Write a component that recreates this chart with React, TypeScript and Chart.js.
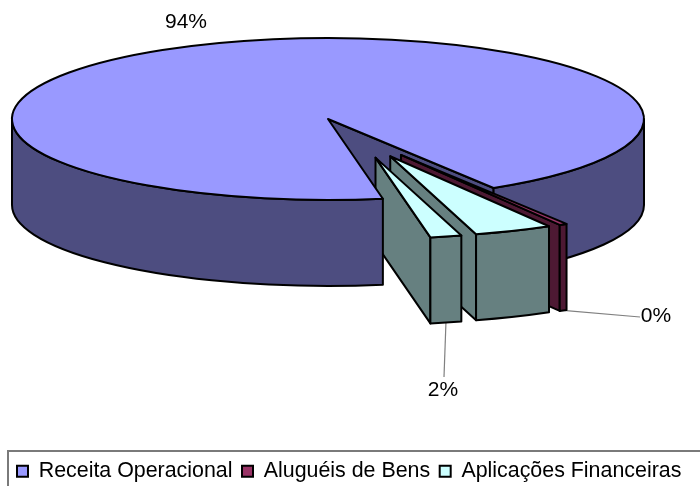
import React, { useEffect, useRef } from "react";
import { Chart, registerables } from "chart.js";

Chart.register(...registerables);

const categories = ["Receita Operacional", "Aluguéis de Bens", "Aplicações Financeiras", "Aplicações Financeiras"];
const values = [94, 0.4, 4, 1.6];
const legendCount = 3;
const topColors = ["#9999FF", "#993366", "#CCFFFF", "#CCFFFF"];
const sideColors = ["#4D4D80", "#4D1933", "#668080", "#668080"];
const explodeDistance = [0, 158, 158, 158];
const explodeHeading = [0, 62.5, 66.8, 72.5];
const labelCenters: (number[] | null)[] = [[186, 22], [656, 316], null, [443, 390]];
const leaderEnds: (number[] | null)[] = [null, [640, 317], null, [444, 377]];

const FONT = '"Liberation Sans", Arial, sans-serif';
const SQUASH = 81 / 316;
const DEPTH = 86;

function drawArcParts(ctx: any, arc: any, i: number, parts: { walls?: boolean; bases?: number[]; top?: boolean }) {
  const h = (explodeHeading[i] * Math.PI) / 180;
  const d = arc.options.offset || 0;
  const cx = arc.x + Math.cos(h) * d;
  const cy = arc.y + Math.sin(h) * d * SQUASH;
  const R = arc.outerRadius;
  const a1 = arc.startAngle;
  const a2 = arc.endAngle;
  const px = (t: number) => cx + R * Math.cos(t);
  const py = (t: number) => cy + R * SQUASH * Math.sin(t);
  ctx.fillStyle = sideColors[i];
  const wall = (t: number) => {
    ctx.beginPath();
    ctx.moveTo(cx, cy);
    ctx.lineTo(px(t), py(t));
    ctx.lineTo(px(t), py(t) + DEPTH);
    ctx.lineTo(cx, cy + DEPTH);
    ctx.closePath();
    ctx.fill();
    ctx.stroke();
  };
  if (parts.walls) {
    if (Math.cos(a1) < 0) wall(a1);
    if (Math.cos(a2) > 0) wall(a2);
  }
  (parts.bases || []).forEach((base) => {
    const s = Math.max(a1, base);
    const e = Math.min(a2, base + Math.PI);
    if (e <= s) return;
    ctx.beginPath();
    ctx.ellipse(cx, cy, R, R * SQUASH, 0, s, e);
    ctx.lineTo(px(e), py(e) + DEPTH);
    ctx.ellipse(cx, cy + DEPTH, R, R * SQUASH, 0, e, s, true);
    ctx.closePath();
    ctx.fill();
    ctx.stroke();
  });
  if (parts.top) {
    ctx.fillStyle = arc.options.backgroundColor;
    ctx.beginPath();
    ctx.moveTo(cx, cy);
    ctx.ellipse(cx, cy, R, R * SQUASH, 0, a1, a2);
    ctx.closePath();
    ctx.fill();
    ctx.stroke();
  }
}

const pie3d = {
  id: "pie3d",
  afterLayout(chart: any) {
    const a = chart.chartArea;
    a.left = 0; a.right = 656; a.width = 656;
    a.top = 0; a.bottom = 238; a.height = 238;
    const l = chart.legend;
    l.top = 451;
    l.bottom = l.top + l.height;
  },
  beforeDatasetDraw(chart: any, args: any) {
    const ctx = chart.ctx;
    const arcs = chart.getDatasetMeta(args.index).data;
    ctx.save();
    // leader lines sit underneath the slices
    arcs.forEach((arc: any, i: number) => {
      const end = leaderEnds[i];
      if (!end) return;
      const h = (explodeHeading[i] * Math.PI) / 180;
      const d = arc.options.offset || 0;
      const m = (arc.startAngle + arc.endAngle) / 2;
      const sx = arc.x + Math.cos(h) * d + arc.outerRadius * Math.cos(m);
      const sy = arc.y + (Math.sin(h) * d + arc.outerRadius * Math.sin(m)) * SQUASH + DEPTH;
      ctx.strokeStyle = "#808080";
      ctx.lineWidth = 1.2;
      ctx.beginPath();
      ctx.moveTo(sx, sy);
      ctx.lineTo(end[0], end[1]);
      ctx.stroke();
    });
    ctx.lineWidth = 2;
    ctx.lineJoin = "round";
    ctx.strokeStyle = "#000";
    // largest slice: the face and right side are behind the exploded slices
    drawArcParts(ctx, arcs[0], 0, { walls: true, bases: [2 * Math.PI] });
    for (let i = 1; i < arcs.length; i++) {
      drawArcParts(ctx, arcs[i], i, { walls: true, bases: [0, 2 * Math.PI], top: true });
    }
    // its front-left side and top are in front of them
    drawArcParts(ctx, arcs[0], 0, { bases: [0], top: true });
    ctx.restore();
    return false;
  },
  afterDatasetsDraw(chart: any) {
    const ctx = chart.ctx;
    const arcs = chart.getDatasetMeta(0).data;
    const total = values.reduce((s, v) => s + v, 0);
    ctx.save();
    ctx.font = "21px " + FONT;
    ctx.fillStyle = "#000";
    ctx.textAlign = "center";
    ctx.textBaseline = "middle";
    arcs.forEach((_: any, i: number) => {
      const pos = labelCenters[i];
      if (!pos) return;
      ctx.fillText(Math.round((values[i] / total) * 100) + "%", pos[0], pos[1]);
    });
    ctx.restore();
  },
  afterDraw(chart: any) {
    const ctx = chart.ctx;
    ctx.save();
    ctx.strokeStyle = "#7a7a7a";
    ctx.lineWidth = 2;
    ctx.strokeRect(8, 451, 720, 60);
    ctx.restore();
  },
};

export default function App() {
  const ref = useRef<HTMLCanvasElement>(null);
  useEffect(() => {
    document.body.style.margin = "0";
    const chart = new Chart(ref.current as HTMLCanvasElement, {
      type: "pie",
      data: {
        labels: categories,
        datasets: [
          {
            data: values,
            backgroundColor: topColors,
            borderColor: "#000",
            borderWidth: 2,
            offset: explodeDistance,
          },
        ],
      },
      options: {
        responsive: false,
        animation: false,
        rotation: 170,
        radius: 316,
        layout: { padding: { left: 7.5, right: 0, top: 0, bottom: 0 } },
        plugins: {
          tooltip: { enabled: false },
          title: { display: false },
          legend: {
            display: true,
            position: "bottom",
            align: "start",
            labels: {
              boxWidth: 11,
              boxHeight: 11,
              padding: 9.5,
              color: "#000",
              font: { family: FONT, size: 21.4 },
              filter: (item: any) => item.index < legendCount,
            },
          },
        },
      },
      plugins: [pie3d],
    } as any);
    return () => chart.destroy();
  }, []);
  return <canvas ref={ref} width={700} height={486} style={{ display: "block" }} />;
}
